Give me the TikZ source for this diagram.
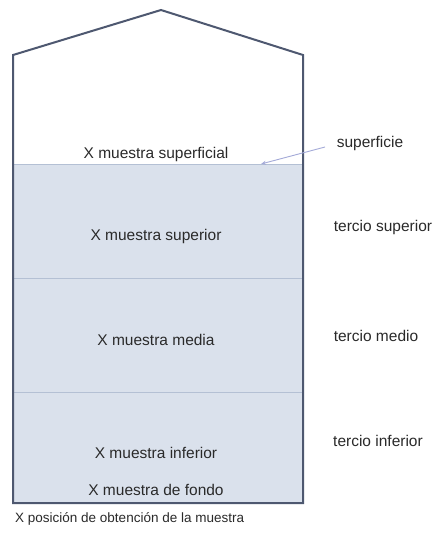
\documentclass[tikz,border=0pt]{standalone}
\usepackage{fontspec}
\setmainfont{Liberation Sans}
\usetikzlibrary{arrows.meta}
\definecolor{outl}{HTML}{4E5870}
\definecolor{fillc}{HTML}{DAE1EC}
\definecolor{divc}{HTML}{B4C0D4}
\definecolor{arrc}{HTML}{A4AAD8}
\definecolor{txtc}{HTML}{2A2A2A}
\tikzset{
  lbl/.style={font=\fontsize{15.5}{17}\selectfont, text=txtc, inner sep=0pt},
  captxt/.style={font=\fontsize{13.5}{15}\selectfont, text=txtc, inner sep=0pt},
}
\begin{document}
\begin{tikzpicture}[x=1pt,y=-1pt]
\useasboundingbox (0,0) rectangle (433,536);
\fill[white] (0,0) rectangle (433,536);
% fill
\fill[fillc] (13,165) rectangle (303,503);
% dividers
\draw[divc, line width=1pt] (13,164.5) -- (303,164.5);
\draw[divc, line width=1pt] (13,278) -- (303,278);
\draw[divc, line width=1pt] (13,392) -- (303,392);
% outline
\draw[outl, line width=2pt, line join=miter] (13,503) -- (13,55) -- (161,10) -- (303,55) -- (303,503) -- cycle;
% labels
\node[lbl] (ls) at (156,154) {X muestra superficial};
\node[lbl] (lsup) at (156,236) {X muestra superior};
\node[lbl] (lmed) at (156,340) {X muestra media};
\node[lbl] (linf) at (156,453) {X muestra inferior};
\node[lbl] (lfon) at (156,490) {X muestra de fondo};
\node[lbl] (tsurf) at (370,143) {superficie};
\node[lbl] (tsup) at (383,227) {tercio superior};
\node[lbl] (tmed) at (376,336) {tercio medio};
\node[lbl] (tinf) at (378,441) {tercio inferior};
\node[captxt, anchor=west] (capt) at (15,519) {X posición de obtención de la muestra};
\coordinate (surfpt) at (261,164);
\draw[arrc, line width=0.9pt, -{Stealth[length=5pt,width=4pt]}] (325,147) -- (surfpt);
\end{tikzpicture}
\end{document}
